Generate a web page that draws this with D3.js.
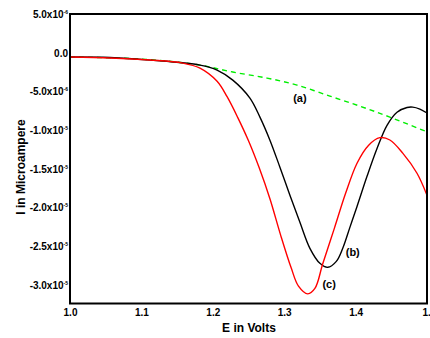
<!DOCTYPE html>
<html>
<head>
<meta charset="utf-8">
<script src="https://cdn.jsdelivr.net/npm/d3@7"></script>
<style>
  html, body { margin: 0; padding: 0; background: #fff; }
  svg { display: block; font-family: "Liberation Sans", Arial, sans-serif; }
</style>
</head>
<body>
<svg id="chart" width="430" height="338"></svg>
<script>
// Values in units of 1e-6 A (E in volts)
const curveA_E = [1.000, 1.100, 1.182, 1.228, 1.276, 1.318, 1.364, 1.406, 1.448, 1.501];
const curveA_I = [-0.57, -0.83, -1.61, -2.51, -3.29, -4.20, -5.62, -6.92, -8.34, -10.28];

const curveB_E = [1.000, 1.056, 1.112, 1.182, 1.206, 1.228, 1.252, 1.266, 1.280, 1.294, 1.308, 1.322, 1.336, 1.350, 1.361, 1.373, 1.382, 1.392, 1.402, 1.416, 1.430, 1.444, 1.458, 1.472, 1.480, 1.490, 1.500];
const curveB_I = [-0.57, -0.63, -0.96, -1.61, -2.25, -3.55, -5.88, -8.34, -11.32, -14.82, -18.45, -21.94, -25.31, -27.25, -27.77, -27.0, -25.3, -22.6, -19.9, -16.0, -12.4, -9.4, -7.7, -7.1, -7.05, -7.3, -7.8];

const curveC_E = [1.000, 1.056, 1.112, 1.158, 1.182, 1.206, 1.220, 1.235, 1.250, 1.265, 1.280, 1.295, 1.310, 1.320, 1.333, 1.343, 1.354, 1.370, 1.386, 1.402, 1.418, 1.434, 1.448, 1.466, 1.486, 1.500];
const curveC_I = [-0.57, -0.70, -0.96, -1.35, -2.00, -3.70, -5.70, -8.40, -11.40, -14.90, -18.90, -23.60, -27.90, -30.20, -31.20, -30.50, -27.30, -22.80, -18.20, -14.30, -12.00, -11.00, -11.30, -13.00, -15.60, -18.45];

const xTicks = [1.0, 1.1, 1.2, 1.3, 1.4, 1.5];
const xTickLabels = ["1.0", "1.1", "1.2", "1.3", "1.4", "1."];
const yTicks = [5, 0, -5, -10, -15, -20, -25, -30];
const yTickMant = ["5.0x10", "0.0", "-5.0x10", "-1.0x10", "-1.5x10", "-2.0x10", "-2.5x10", "-3.0x10"];
const yTickExp = ["-6", "", "-6", "-5", "-5", "-5", "-5", "-5"];

const seriesLabels = [
  { text: "(a)", E: 1.322, I: -6.4 },
  { text: "(b)", E: 1.396, I: -26.3 },
  { text: "(c)", E: 1.363, I: -30.5 }
];

const W = 430, H = 338;
const m = { left: 70, right: 3, top: 14, bottom: 34.5 };
const svg = d3.select("#chart");

const x = d3.scaleLinear().domain([1.0, 1.5]).range([m.left, W - m.right]);
const y = d3.scaleLinear().domain([-32.45, 5]).range([H - m.bottom, m.top]);

svg.append("defs").append("clipPath").attr("id", "clip")
  .append("rect").attr("x", m.left).attr("y", m.top)
  .attr("width", W - m.left - m.right).attr("height", H - m.top - m.bottom);

const line = d3.line().x(d => x(d[0])).y(d => y(d[1])).curve(d3.curveCatmullRom.alpha(0.5));
const zip = (a, b) => a.map((v, i) => [v, b[i]]);

const g = svg.append("g").attr("clip-path", "url(#clip)");
g.append("path").datum(zip(curveA_E, curveA_I)).attr("d", line)
  .attr("fill", "none").attr("stroke", "#00ee00").attr("stroke-width", 1.4)
  .attr("stroke-dasharray", "5,4");
g.append("path").datum(zip(curveB_E, curveB_I)).attr("d", line)
  .attr("fill", "none").attr("stroke", "#000").attr("stroke-width", 1.4);
g.append("path").datum(zip(curveC_E, curveC_I)).attr("d", line)
  .attr("fill", "none").attr("stroke", "#ff0000").attr("stroke-width", 1.4);

// frame
svg.append("rect").attr("x", m.left).attr("y", m.top)
  .attr("width", W - m.left - m.right).attr("height", H - m.top - m.bottom)
  .attr("fill", "none").attr("stroke", "#000").attr("stroke-width", 2);

// x axis ticks
const xAxis = d3.axisBottom(x).tickValues(xTicks).tickSize(0)
  .tickFormat((d, i) => xTickLabels[i]);
const xa = svg.append("g").attr("transform", `translate(0,${H - m.bottom})`).call(xAxis);
xa.select(".domain").remove();
xa.selectAll("text").attr("font-size", 10).attr("font-weight", "bold")
  .attr("font-family", "Liberation Sans, Arial, sans-serif").attr("fill", "#000").attr("dy", "0.9em");
xa.selectAll(".tick").filter((d, i) => i === xTicks.length - 1).select("text")
  .attr("text-anchor", "start").attr("x", -5);

// y axis ticks
const yAxis = d3.axisLeft(y).tickValues(yTicks).tickSize(0).tickFormat("");
const ya = svg.append("g").attr("transform", `translate(${m.left},0)`).call(yAxis);
ya.select(".domain").remove();
ya.selectAll(".tick").each(function(d, i) {
  const t = d3.select(this).append("text")
    .attr("x", -2).attr("dy", "0.35em")
    .attr("text-anchor", "end")
    .attr("font-size", 10).attr("font-weight", "bold").attr("fill", "#000")
    .attr("font-family", "Liberation Sans, Arial, sans-serif");
  t.append("tspan").text(yTickMant[i]);
  if (yTickExp[i]) {
    t.append("tspan").attr("font-size", 5).attr("dy", -4).text(yTickExp[i]);
  }
});

// axis titles
svg.append("text").attr("x", 249).attr("y", 332).attr("text-anchor", "middle")
  .attr("font-size", 12).attr("font-weight", "bold").text("E in Volts");
svg.append("text").attr("transform", "translate(25,167) rotate(-90)")
  .attr("text-anchor", "middle").attr("font-size", 12).attr("font-weight", "bold")
  .text("I in Microampere");

// series labels
svg.selectAll(".slab").data(seriesLabels).enter().append("text")
  .attr("x", d => x(d.E)).attr("y", d => y(d.I))
  .attr("text-anchor", "middle").attr("font-size", 11).attr("font-weight", "bold")
  .text(d => d.text);
</script>
</body>
</html>
